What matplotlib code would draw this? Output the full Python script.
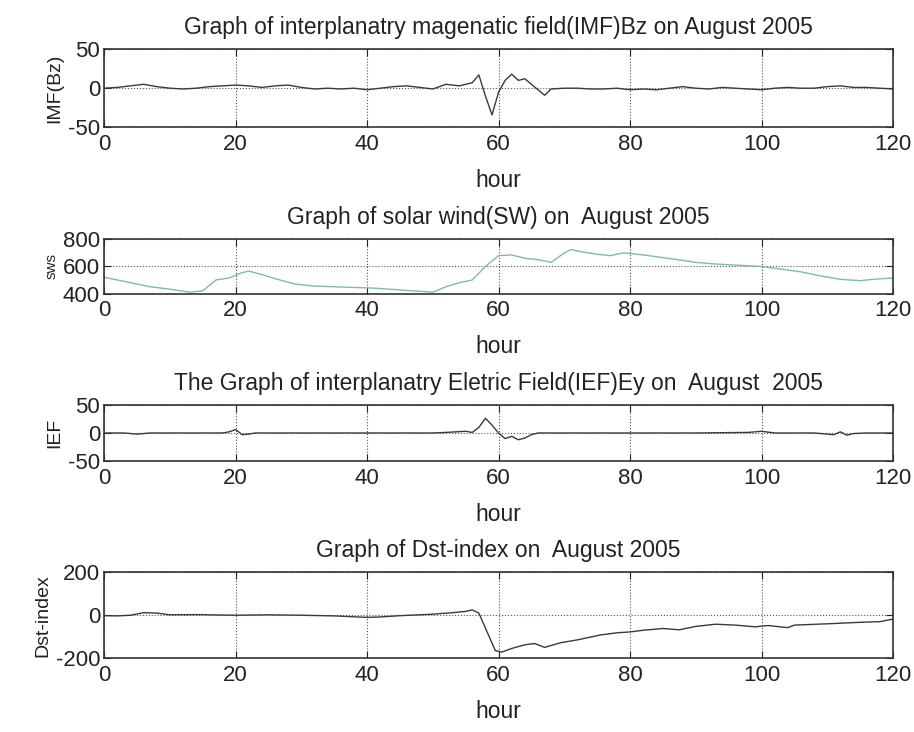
import matplotlib
matplotlib.use('Agg')
import matplotlib.pyplot as plt
import numpy as np

plt.rcParams['font.family'] = ['Liberation Sans', 'DejaVu Sans']
plt.rcParams['axes.unicode_minus'] = False

# IMF Bz (nT)
bz_hours = [0, 2, 4, 6, 8, 10, 12, 14, 16, 18, 20, 22, 24, 26, 28, 30, 32, 34, 36, 38,
            40, 42, 44, 46, 48, 50, 52, 54, 56, 57, 58, 59, 60, 61, 62, 63, 64, 66, 67, 68,
            70, 72, 74, 76, 78, 80, 82, 84, 86, 88, 90, 92, 94, 96, 98, 100, 102, 104, 106,
            108, 110, 112, 114, 116, 118, 120]
bz_vals = [0, 1, 3, 5, 2, 0, -1, 0, 2, 3, 4, 3, 1, 3, 4, 1, -1, 0, -1, 0,
           -2, 0, 2, 3, 1, -1, 5, 3, 7, 17, -10, -34, -5, 10, 18, 10, 12, -2, -9, -1,
           0, 0, -1, -1, 0, -2, -1, -2, 0, 2, 0, -1, 1, 0, -1, -2, 0, 1, 0,
           0, 2, 3, 1, 1, 0, -1]

# solar wind speed (km/s)
sw_hours = [0, 1, 4, 7, 10, 13, 15, 17, 19, 21, 22, 24, 26, 29, 32, 35, 38, 41, 44,
            47, 50, 52, 54, 56, 58, 60, 62, 64, 66, 68, 70, 71, 73, 75, 77, 79, 82,
            85, 88, 90, 93, 96, 100, 103, 106, 109, 112, 115, 117, 120]
sw_vals = [520, 510, 480, 450, 432, 410, 420, 500, 515, 555, 565, 540, 510, 470, 455,
           450, 445, 440, 430, 420, 410, 450, 480, 500, 600, 680, 685, 660, 650, 630,
           700, 725, 705, 690, 680, 700, 685, 665, 645, 630, 618, 610, 600, 580, 560,
           530, 505, 495, 505, 515]

# IEF Ey (mV/m)
ef_hours = [0, 3, 5, 7, 10, 15, 18, 19, 20, 21, 22, 23, 25, 30, 35, 40, 45, 50, 52,
            55, 56, 57, 58, 59, 60, 61, 62, 63, 64, 65, 66, 70, 80, 90, 98, 100, 102,
            108, 111, 112, 113, 114, 116, 120]
ef_vals = [0, 0, -2, 0, 0, 0, 0, 2, 6, -3, -2, 0, 0, 0, 0, 0, 0, 0, 1,
           3, 1, 10, 26, 14, 0, -10, -6, -12, -9, -3, 0, 0, 0, 0, 1, 3, 0,
           0, -3, 2, -4, -1, 0, 0]

# Dst index (nT)
dst_hours = [0, 2, 4, 6, 8, 10, 14, 20, 25, 30, 35, 40, 42, 45, 50, 53, 55, 56, 57,
             58, 59.5, 60.5, 62, 64, 65.5, 67, 69.5, 72, 75.5, 78, 80, 82, 85, 87.5, 90,
             93, 96, 99, 101, 104, 105, 110, 115, 118, 120]
dst_vals = [-2, -3, 0, 12, 10, 2, 3, 0, 2, 0, -3, -10, -8, -2, 5, 12, 18, 25, 10,
            -60, -165, -172, -155, -138, -132, -150, -128, -115, -92, -82, -78, -70, -62,
            -68, -52, -42, -46, -54, -48, -58, -46, -40, -33, -30, -18]

xticks = [0, 20, 40, 60, 80, 100, 120]

fig = plt.figure(figsize=(9.14, 7.32), dpi=100)
fig.patch.set_facecolor('white')

panels = [
    # rect, x, y, color, ylim, yticks, title, ylabel, ylabel size
    ([0.114, 0.826, 0.863, 0.107], bz_hours, bz_vals, '#3a3a3a', (-50, 50), [-50, 0, 50],
     'Graph of interplanatry magenatic field(IMF)Bz on August 2005', 'IMF(Bz)', 14),
    ([0.114, 0.599, 0.863, 0.074], sw_hours, sw_vals, '#7fbca6', (400, 800), [400, 600, 800],
     'Graph of solar wind(SW) on  August 2005', 'sws', 11),
    ([0.114, 0.370, 0.863, 0.077], ef_hours, ef_vals, '#3a3a3a', (-50, 50), [-50, 0, 50],
     'The Graph of interplanatry Eletric Field(IEF)Ey on  August  2005', 'IEF', 14),
    ([0.114, 0.101, 0.863, 0.117], dst_hours, dst_vals, '#3a3a3a', (-200, 200), [-200, 0, 200],
     'Graph of Dst-index on  August 2005', 'Dst-index', 14),
]

for rect, x, y, col, ylim, yt, title, ylab, ysz in panels:
    ax = fig.add_axes(rect)
    ax.plot(x, y, color=col, lw=1.0)
    ax.set_xlim(0, 120)
    ax.set_ylim(*ylim)
    ax.set_xticks(xticks)
    ax.set_yticks(yt)
    ax.grid(True, linestyle=':', color='#555555', lw=0.8)
    ax.tick_params(direction='in', top=True, right=True, length=5,
                   labelsize=16, color='#222222', labelcolor='#222222')
    ax.tick_params(axis='x', pad=5)
    ax.tick_params(axis='y', pad=3)
    for sp in ax.spines.values():
        sp.set_color('#333333')
        sp.set_linewidth(1.2)
    ax.set_title(title, fontsize=16.5, pad=11, color='#222222')
    ax.set_xlabel('hour', fontsize=16.5, labelpad=10, color='#222222')
    ax.set_ylabel(ylab, fontsize=ysz, labelpad=3, color='#222222')

fig.savefig('out.png', dpi=100, facecolor='white')
